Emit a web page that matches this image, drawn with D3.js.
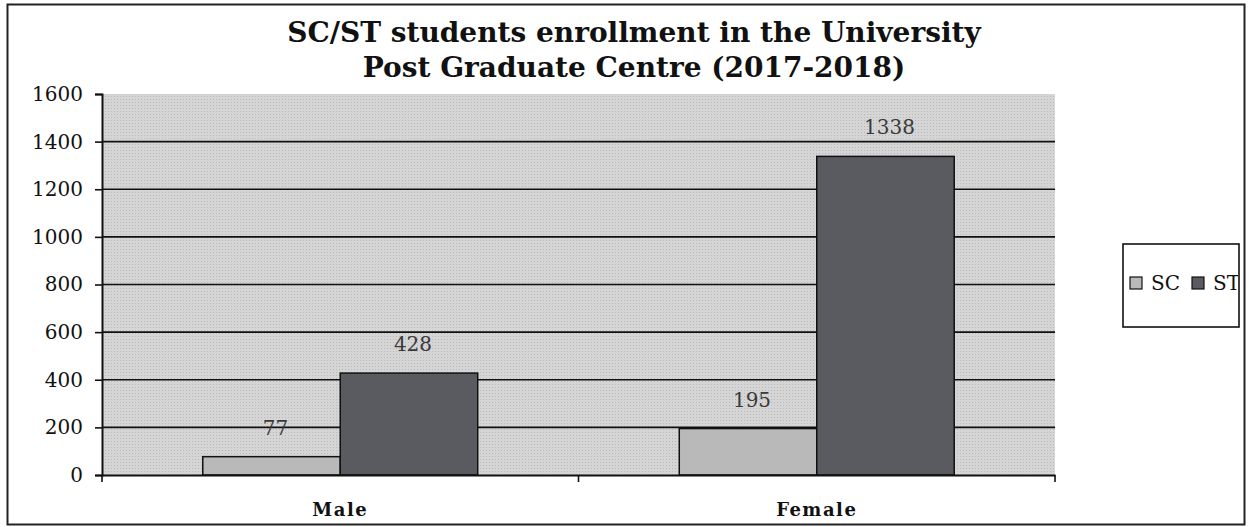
<!DOCTYPE html>
<html>
<head>
<meta charset="utf-8">
<script src="https://cdn.jsdelivr.net/npm/d3@7"></script>
<style>
  body { margin: 0; background: #fff; }
  svg { display: block; }
</style>
</head>
<body>
<svg id="chart" width="1249" height="527"></svg>
<script>
// data
const categories = ['Male', 'Female'];
const seriesNames = ['SC', 'ST'];
const scValues = [77, 195];
const stValues = [428, 1338];
const yTicks = [0, 200, 400, 600, 800, 1000, 1200, 1400, 1600];
const titleLines = ['SC/ST students enrollment in the University', 'Post Graduate Centre (2017-2018)'];

const W = 1249, H = 527;
const plot = {left: 102, right: 1055, top: 94, bottom: 475};
const serif = '"DejaVu Serif", "Liberation Serif", serif';
const colors = {SC: '#b9b9b9', ST: '#5a5a61'};

const svg = d3.select('#chart');

// outer frame
svg.append('rect')
   .attr('x', 7.5).attr('y', 4.5)
   .attr('width', 1237).attr('height', 520)
   .attr('fill', '#fff')
   .attr('stroke', '#222').attr('stroke-width', 2);

// dithered grey look for plot area
const defs = svg.append('defs');
const pat = defs.append('pattern')
   .attr('id', 'dots').attr('width', 3).attr('height', 3)
   .attr('patternUnits', 'userSpaceOnUse');
pat.append('rect').attr('width', 3).attr('height', 3).attr('fill', '#d5d5d5');
pat.append('rect').attr('width', 1).attr('height', 1).attr('fill', '#b8b8b8');

const rows = seriesNames.map(s => ({
  name: s,
  values: s === 'SC' ? scValues : stValues
}));

const x0 = d3.scaleBand()
   .domain(categories)
   .range([plot.left, plot.right])
   .paddingInner(0).paddingOuter(0);

const x1 = d3.scaleBand()
   .domain(seriesNames)
   .range([0, x0.bandwidth()])
   .paddingInner(0)
   .paddingOuter(0.733);

const y = d3.scaleLinear()
   .domain([0, 1600])
   .range([plot.bottom, plot.top]);

// plot background
svg.append('rect')
   .attr('x', plot.left).attr('y', plot.top)
   .attr('width', plot.right - plot.left)
   .attr('height', plot.bottom - plot.top)
   .attr('fill', 'url(#dots)');

// gridlines (not the top one)
svg.append('g')
   .selectAll('line')
   .data(yTicks.filter(t => t > 0 && t < 1600))
   .enter().append('line')
   .attr('x1', plot.left).attr('x2', plot.right)
   .attr('y1', d => y(d)).attr('y2', d => y(d))
   .attr('stroke', '#111').attr('stroke-width', 1.6);

// y axis
const yAxis = svg.append('g')
   .attr('transform', `translate(${plot.left},0)`)
   .call(d3.axisLeft(y).tickValues(yTicks).tickSize(7).tickPadding(12).tickFormat(d3.format('d')));
yAxis.select('.domain').attr('stroke', '#111').attr('stroke-width', 2);
yAxis.selectAll('.tick line').attr('stroke', '#111').attr('stroke-width', 1.6);
yAxis.selectAll('text')
   .style('font-family', serif).style('font-size', '20px').attr('fill', '#111');

// bars
const groups = svg.append('g')
   .selectAll('g')
   .data(categories)
   .enter().append('g')
   .attr('transform', d => `translate(${x0(d)},0)`);

groups.selectAll('rect')
   .data((c, i) => rows.map(r => ({series: r.name, value: r.values[i]})))
   .enter().append('rect')
   .attr('x', d => x1(d.series))
   .attr('y', d => y(d.value))
   .attr('width', x1.bandwidth())
   .attr('height', d => y(0) - y(d.value))
   .attr('fill', d => colors[d.series])
   .attr('stroke', '#111').attr('stroke-width', 1.5);

// value labels
groups.selectAll('text')
   .data((c, i) => rows.map(r => ({series: r.name, value: r.values[i]})))
   .enter().append('text')
   .attr('x', d => x1(d.series) + x1.bandwidth() / 2 + 4)
   .attr('y', d => y(d.value) - 22)
   .attr('text-anchor', 'middle')
   .style('font-family', serif).style('font-size', '20px')
   .attr('fill', '#3a3a3a')
   .text(d => d.value);

// x axis
const xAxis = svg.append('g')
   .attr('transform', `translate(0,${plot.bottom})`)
   .call(d3.axisBottom(x0).tickSize(0).tickPadding(28));
xAxis.select('.domain').attr('stroke', '#111').attr('stroke-width', 2);
xAxis.selectAll('text')
   .style('font-family', serif).style('font-size', '18px')
   .attr('font-weight', 'bold').attr('fill', '#111')
   .attr('letter-spacing', 1.5);
// category boundary ticks
xAxis.selectAll('.bound')
   .data([plot.left, x0('Female'), plot.right])
   .enter().append('line')
   .attr('x1', d => d).attr('x2', d => d)
   .attr('y1', 0).attr('y2', 7)
   .attr('stroke', '#111').attr('stroke-width', 1.6);

// title
svg.append('text')
   .attr('x', 634).attr('y', 42)
   .attr('text-anchor', 'middle')
   .style('font-family', serif).style('font-size', '28px').attr('font-weight', 'bold')
   .attr('fill', '#111')
   .selectAll('tspan')
   .data(titleLines)
   .enter().append('tspan')
   .attr('x', 634)
   .attr('dy', (d, i) => i === 0 ? 0 : 35)
   .text(d => d);

// legend
const legend = svg.append('g');
legend.append('rect')
   .attr('x', 1123).attr('y', 244)
   .attr('width', 116).attr('height', 83)
   .attr('fill', '#fff')
   .attr('stroke', '#111').attr('stroke-width', 1.6);
const lg = legend.append('g').attr('clip-path', 'url(#legClip)');
defs.append('clipPath').attr('id', 'legClip')
   .append('rect').attr('x', 1123).attr('y', 244).attr('width', 115).attr('height', 83);
const items = lg.selectAll('g')
   .data(seriesNames)
   .enter().append('g')
   .attr('transform', (d, i) => `translate(${1130 + i * 62},277)`);
items.append('rect')
   .attr('width', 12).attr('height', 12)
   .attr('fill', d => colors[d])
   .attr('stroke', '#111').attr('stroke-width', 1.2);
items.append('text')
   .attr('x', 21).attr('y', 13)
   .style('font-family', serif).style('font-size', '20px')
   .attr('fill', '#111')
   .text(d => d);
</script>
</body>
</html>
